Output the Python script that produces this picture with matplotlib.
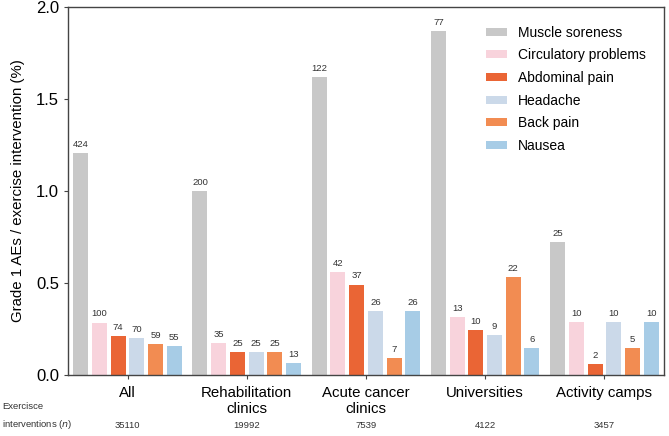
import matplotlib.pyplot as plt
import numpy as np

plt.rcParams['font.family'] = ['Liberation Sans', 'DejaVu Sans']

settings = ['All', 'Rehabilitation\nclinics', 'Acute cancer\nclinics', 'Universities', 'Activity camps']
n_interventions = [35110, 19992, 7539, 4122, 3457]

events = ['Muscle soreness', 'Circulatory problems', 'Abdominal pain', 'Headache', 'Back pain', 'Nausea']
colors = ['#c8c8c8', '#f8d3dc', '#ea6535', '#cbd9e9', '#f28c52', '#a7cce6']

# rate per exercise intervention (%)
muscle_soreness = [1.208, 1.000, 1.618, 1.868, 0.723]
circulatory = [0.285, 0.175, 0.557, 0.315, 0.289]
abdominal = [0.211, 0.125, 0.491, 0.243, 0.058]
headache = [0.199, 0.125, 0.345, 0.218, 0.289]
back_pain = [0.168, 0.125, 0.093, 0.534, 0.145]
nausea = [0.157, 0.065, 0.345, 0.146, 0.289]

# counts shown above the bars
muscle_soreness_n = [424, 200, 122, 77, 25]
circulatory_n = [100, 35, 42, 13, 10]
abdominal_n = [74, 25, 37, 10, 2]
headache_n = [70, 25, 26, 9, 10]
back_pain_n = [59, 25, 7, 22, 5]
nausea_n = [55, 13, 26, 6, 10]

rates = [muscle_soreness, circulatory, abdominal, headache, back_pain, nausea]
counts = [muscle_soreness_n, circulatory_n, abdominal_n, headache_n, back_pain_n, nausea_n]

fig = plt.figure(figsize=(6.69, 4.36), dpi=100)
ax = fig.add_axes([0.1016, 0.14, 0.8909, 0.844])

x = np.arange(len(settings))
pitch = 0.157
width = 0.126
for i, (label, vals, cnt) in enumerate(zip(events, rates, counts)):
    bars = ax.bar(x + (i - 2.5) * pitch, vals, width, color=colors[i], label=label)
    ax.bar_label(bars, labels=[str(c) for c in cnt], padding=3, fontsize=6.8, color='#333333')

ax.set_xlim(-0.5, 4.5)
ax.set_ylim(0, 2.0)
ax.set_yticks([0, 0.5, 1.0, 1.5, 2.0])
ax.set_yticklabels(['0.0', '0.5', '1.0', '1.5', '2.0'])
ax.set_xticks(x)
ax.set_xticklabels(settings, fontsize=10.8, linespacing=1.15)
ax.tick_params(axis='y', labelsize=12, length=3, color='#444444')
ax.tick_params(axis='x', length=3, color='#444444', pad=5)
for s in ax.spines.values():
    s.set_color('#444444')
    s.set_linewidth(1.0)
ax.set_ylabel('Grade 1 AEs / exercise intervention (%)', fontsize=10.8, labelpad=8)

leg = ax.legend(loc='upper left', bbox_to_anchor=(0.69, 0.968), frameon=False, fontsize=10,
                borderpad=0, handlelength=1.5, handleheight=0.5, labelspacing=0.62,
                handletextpad=0.8)

fig.text(0.003, 0.045, 'Exercisce\ninterventions ($n$)', fontsize=6.8, color='#333333',
         va='center', ha='left', linespacing=1.7)
for xi, n in zip(x, n_interventions):
    xf = fig.transFigure.inverted().transform(ax.transData.transform((xi, 0)))[0]
    fig.text(xf, 0.023, str(n), fontsize=6.8, color='#333333', ha='center', va='center')

fig.savefig('out.png', dpi=100)
